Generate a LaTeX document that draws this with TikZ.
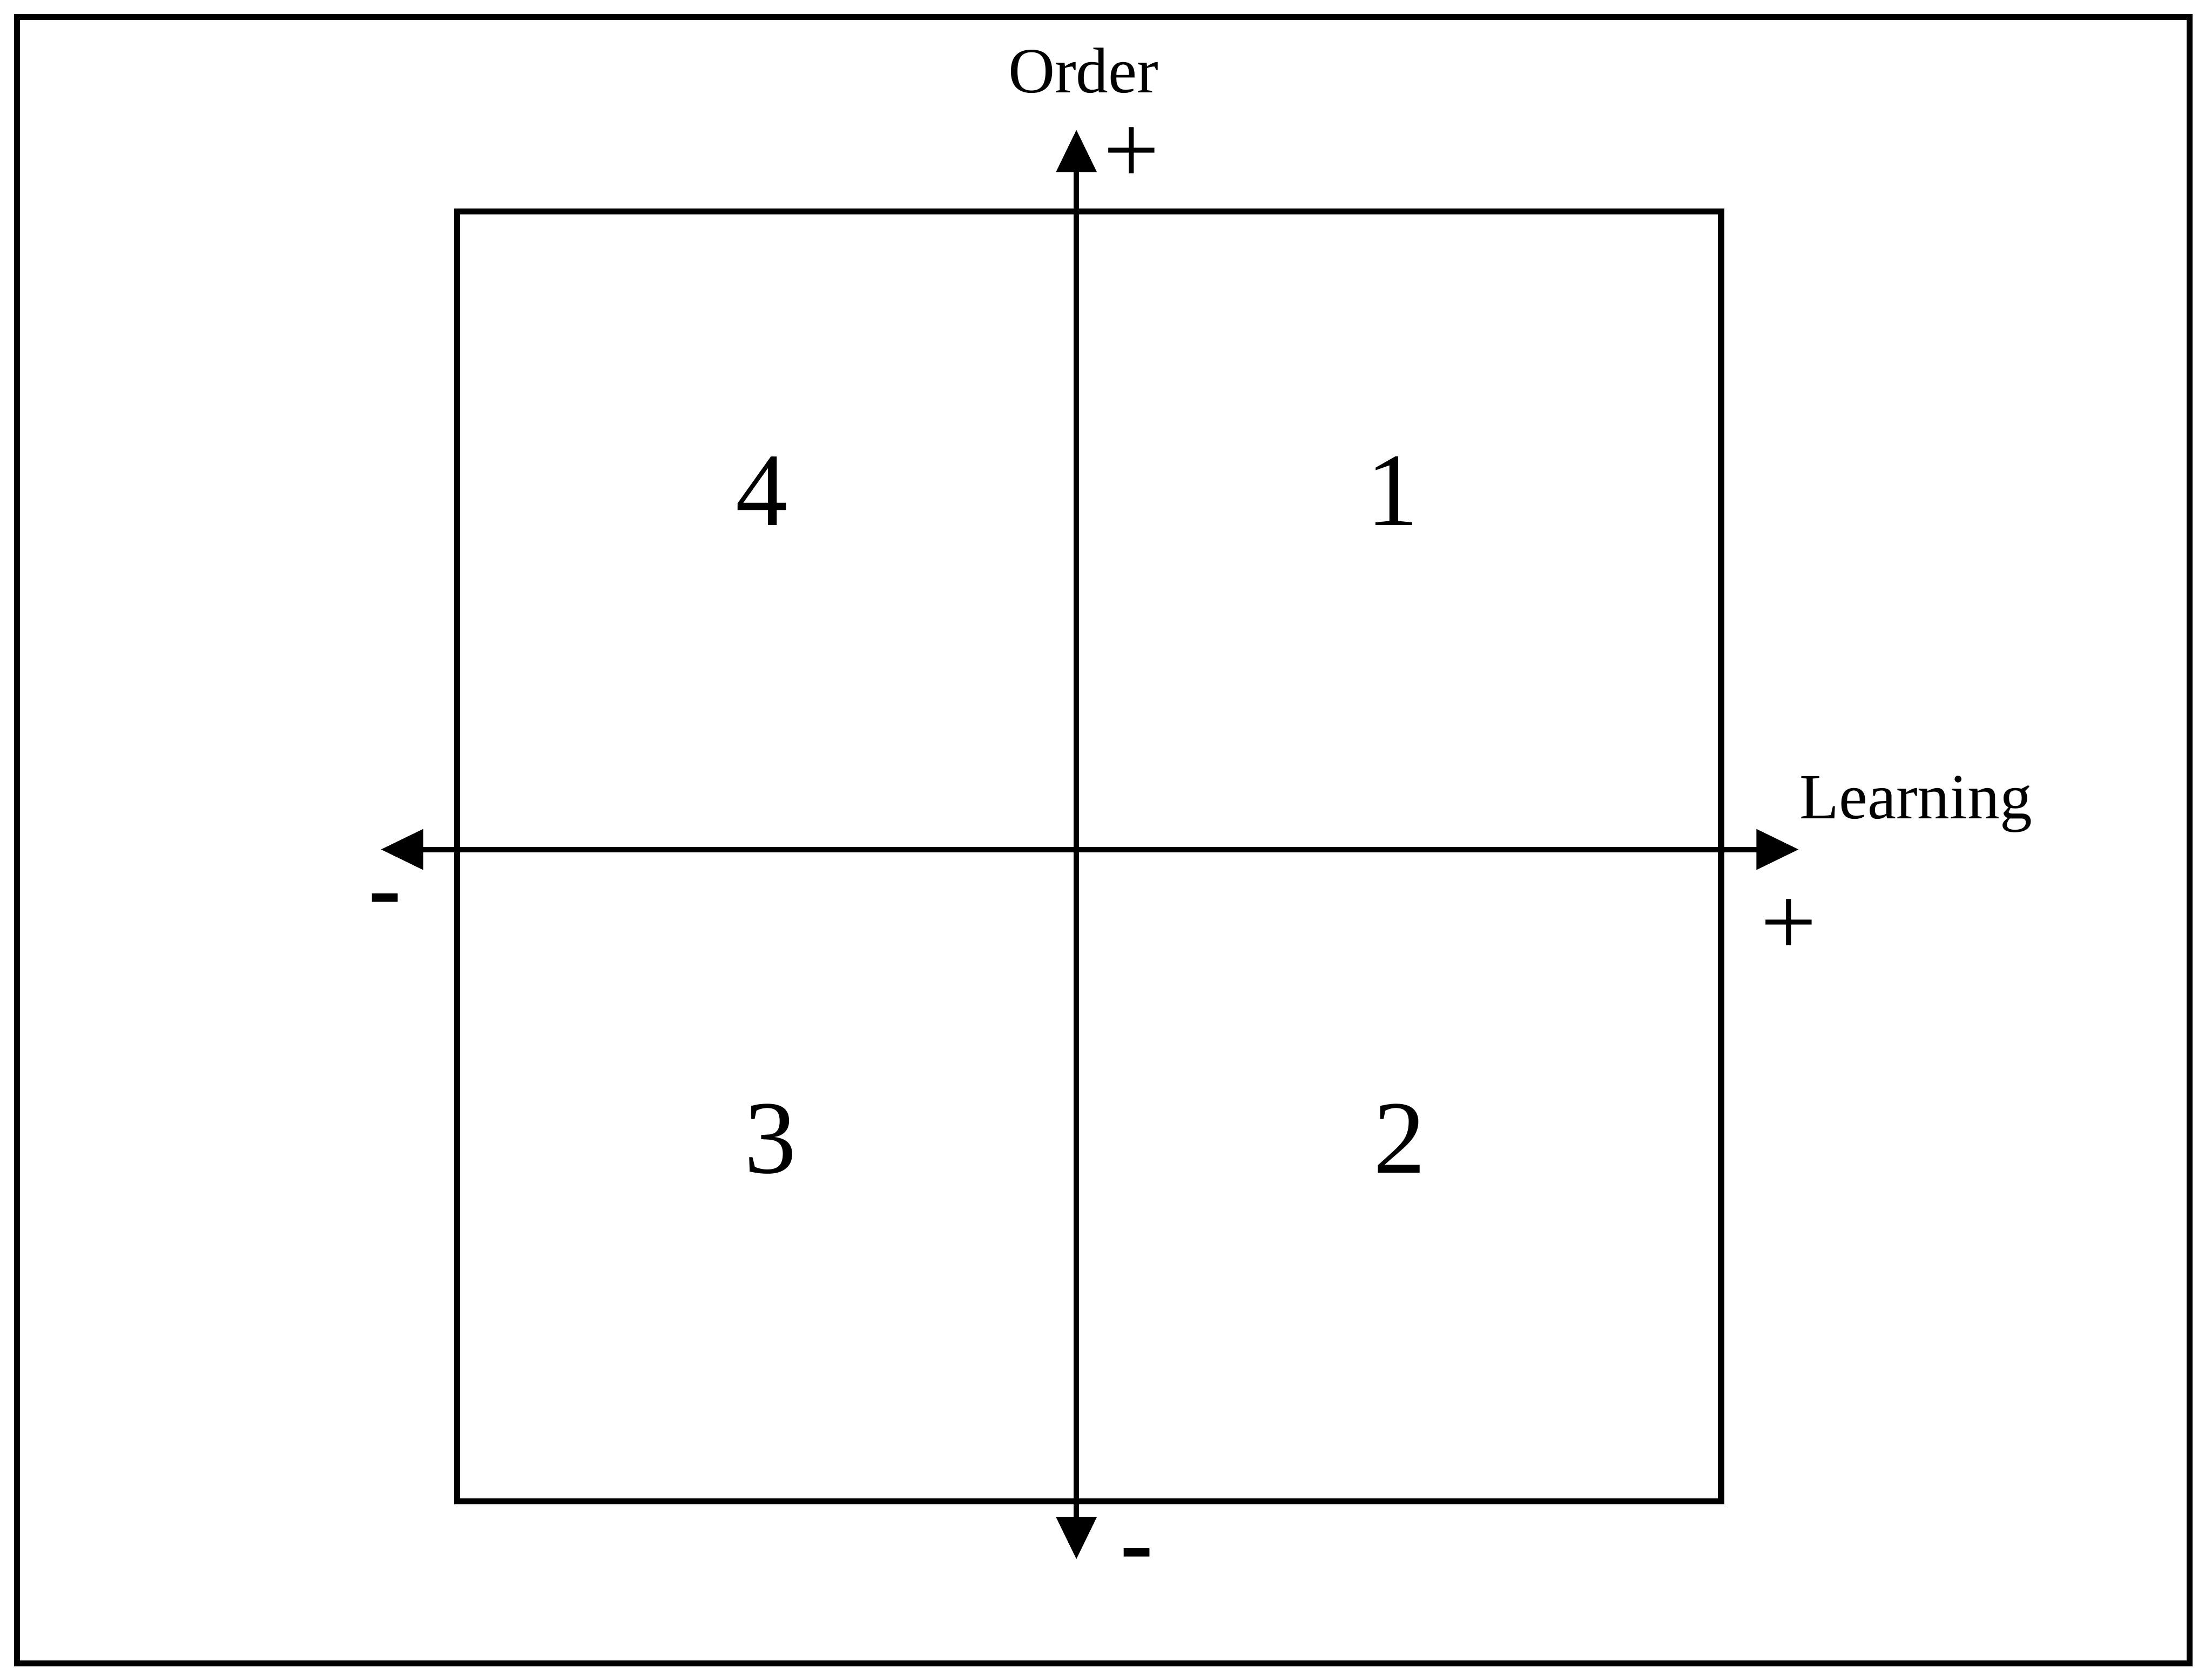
\documentclass[tikz,border=0pt]{standalone}
\usepackage{fontspec}
\setmainfont{Liberation Serif}
\usepackage{tikz}
\usetikzlibrary{positioning,arrows.meta}
\definecolor{inkblack}{RGB}{0,0,0}
\tikzset{
  frame/.style  = {draw=inkblack, line width=1.2pt},
  quad/.style   = {draw=inkblack, line width=1.2pt, minimum width=8.96cm, minimum height=9.14cm, inner sep=0pt},
  axis/.style   = {{Triangle[length=3mm, width=2.8mm]}-{Triangle[length=3mm, width=2.8mm]}, line width=1.1pt, draw=inkblack},
  qnum/.style   = {font=\fontsize{21}{24}\selectfont, inner sep=0pt},
  alabel/.style = {font=\fontsize{13}{15}\selectfont, inner sep=0pt},
  sign/.style   = {font=\fontsize{20}{22}\selectfont, inner sep=0pt},
  minus/.style  = {font=\fontsize{20}{22}\selectfont\bfseries, inner sep=0pt},
}

\begin{document}
\begin{tikzpicture}
  \useasboundingbox (0,0) rectangle (15.68,11.82);
  \draw[frame] (0.12,0.03) rectangle (15.52,11.70);
  \node[quad] (sq) at (7.72,5.75) {};
  \coordinate (oTop) at (7.63,10.90);
  \coordinate (oBot) at (7.63,0.77);
  \coordinate (lLeft) at (2.70,5.80);
  \coordinate (lRight) at (12.75,5.80);
  \draw[axis] (oBot) -- (oTop);
  \draw[axis] (lLeft) -- (lRight);
  \node[qnum] (q4) at (5.40,8.34) {4};
  \node[qnum] (q1) at (9.87,8.34) {1};
  \node[qnum] (q3) at (5.46,3.75) {3};
  \node[qnum] (q2) at (9.92,3.75) {2};
  \node[alabel] (order) at (7.68,11.32) {Order};
  \node[alabel] (learn) at (13.58,6.12) {Learning};
  \node[sign] (oplus) at (8.02,10.72) {+};
  \node[sign] (lplus) at (12.68,5.25) {+};
  \node[minus] (lminus) at (2.73,5.39) {-};
  \node[minus] (ominus) at (8.06,0.75) {-};
\end{tikzpicture}
\end{document}
